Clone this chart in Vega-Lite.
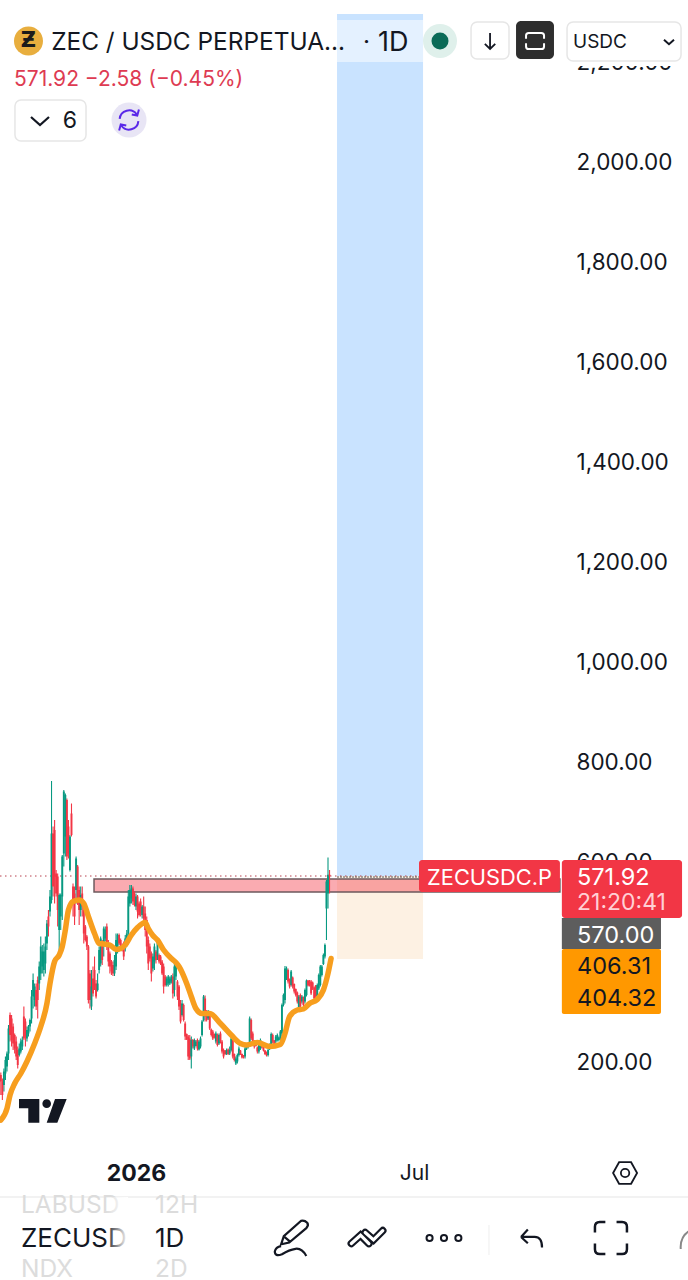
{"$schema":"https://vega.github.io/schema/vega-lite/v6.json","width":688,"height":1280,"padding":0,"autosize":{"type":"none"},"background":"#ffffff","config":{"view":{"stroke":null},"font":"Inter","axis":{"labelFont":"Inter"}},
"encoding":{"x":{"field":"date","type":"temporal","title":null,"scale":{"type":"utc","domain":[{"year":2025,"month":10,"date":4,"hours":11,"utc":true},{"year":2026,"month":12,"date":26,"hours":9,"utc":true}],"nice":false},"axis":{"orient":"bottom","offset":-107,"values":[{"year":2026,"month":1,"date":1,"utc":true},{"year":2026,"month":7,"date":1,"utc":true}],"labelExpr":"utcmonth(datum.value)==0?'2026':'Jul'","labelFontWeight":{"condition":{"test":"utcmonth(datum.value)==0","value":"bold"},"value":"normal"},"labelFontSize":{"condition":{"test":"utcmonth(datum.value)==0","value":23},"value":21},"labelColor":"#131722","labelBaseline":"middle","labelPadding":0,"labelOverlap":false,"labelBound":false,"labelFlush":false,"domain":false,"ticks":false,"grid":false,"title":null}},
"y":{"field":"price","type":"quantitative","title":null,"scale":{"domain":[-236,2324],"nice":false,"zero":false},"axis":{"orient":"right","offset":-112,"values":[200,600,800,1000,1200,1400,1600,1800,2000,2200],"format":",.2f","labelFontSize":22.5,"labelColor":"#131722","labelPadding":0,"labelAlign":"left","labelOverlap":false,"labelBound":false,"domain":false,"ticks":false,"grid":false,"title":null}}},
"layer":[
{"data":{"values":[{"date":"2026-05-11T21:00:00Z","date2":"2026-07-06T21:00:00Z","price":572,"price2":2296}],"format":{"parse":{"date":"date","date2":"date"}}},"mark":{"type":"rect","color":"#C9E3FF"},"encoding":{"x2":{"field":"date2"},"y2":{"field":"price2"}}},
{"data":{"values":[{"date":"2026-05-11T21:00:00Z","date2":"2026-07-06T21:00:00Z","price":2284,"price2":2200}],"format":{"parse":{"date":"date","date2":"date"}}},"mark":{"type":"rect","color":"#ffffff","opacity":0.5},"encoding":{"x2":{"field":"date2"},"y2":{"field":"price2"}}},
{"data":{"values":[{"date":"2026-05-11T21:00:00Z","date2":"2026-07-06T21:00:00Z","price":406,"price2":572}],"format":{"parse":{"date":"date","date2":"date"}}},"mark":{"type":"rect","color":"#FDF1E3"},"encoding":{"x2":{"field":"date2"},"y2":{"field":"price2"}}},
{"data":{"values":[{"date":"2025-12-04T16:00:00Z","date2":"2026-10-04T00:00:00Z","price":540,"price2":566}],"format":{"parse":{"date":"date","date2":"date"}}},"mark":{"type":"rect","fill":"#F23645","fillOpacity":0.42,"stroke":"#6E5A5E","strokeWidth":1.5},"encoding":{"x2":{"field":"date2"},"y2":{"field":"price2"}}},
{"data":{"values":[{"date":"2025-10-04T11:00:00Z","date2":"2026-07-04T06:00:00Z","price":572}],"format":{"parse":{"date":"date","date2":"date"}}},"mark":{"type":"rule","color":"#B8404F","strokeWidth":1,"strokeDash":[1.5,3.5]},"encoding":{"x2":{"field":"date2"}}},
{"data":{"values":[{"date":"2026-05-11T21:00:00Z","date2":"2026-07-04T06:00:00Z","price":570}],"format":{"parse":{"date":"date","date2":"date"}}},"mark":{"type":"rule","color":"#555555","strokeWidth":1,"strokeDash":[2,1]},"encoding":{"x2":{"field":"date2"}}},
{"data":{"name":"candles","values":[
{"date":"2025-10-05","open":174,"high":179,"low":134,"close":161},
{"date":"2025-10-06","open":161,"high":167,"low":124,"close":134},
{"date":"2025-10-07","open":154,"high":187,"low":141,"close":181},
{"date":"2025-10-08","open":177,"high":211,"low":164,"close":204},
{"date":"2025-10-09","open":191,"high":221,"low":181,"close":217},
{"date":"2025-10-10","open":217,"high":274,"low":204,"close":267},
{"date":"2025-10-11","open":294,"high":299,"low":241,"close":254},
{"date":"2025-10-12","open":287,"high":294,"low":231,"close":244},
{"date":"2025-10-13","open":271,"high":277,"low":224,"close":237},
{"date":"2025-10-14","open":254,"high":257,"low":217,"close":227},
{"date":"2025-10-15","open":241,"high":251,"low":204,"close":211},
{"date":"2025-10-16","open":224,"high":231,"low":187,"close":194},
{"date":"2025-10-17","open":214,"high":237,"low":211,"close":227},
{"date":"2025-10-18","open":221,"high":247,"low":217,"close":241},
{"date":"2025-10-19","open":231,"high":251,"low":224,"close":244},
{"date":"2025-10-20","open":291,"high":311,"low":244,"close":247},
{"date":"2025-10-21","open":281,"high":287,"low":231,"close":251},
{"date":"2025-10-22","open":247,"high":271,"low":241,"close":264},
{"date":"2025-10-23","open":257,"high":274,"low":251,"close":271},
{"date":"2025-10-24","open":271,"high":287,"low":261,"close":284},
{"date":"2025-10-25","open":287,"high":344,"low":277,"close":331},
{"date":"2025-10-26","open":331,"high":377,"low":307,"close":364},
{"date":"2025-10-27","open":324,"high":357,"low":311,"close":351},
{"date":"2025-10-28","open":344,"high":357,"low":304,"close":311},
{"date":"2025-10-29","open":364,"high":371,"low":287,"close":324},
{"date":"2025-10-30","open":357,"high":401,"low":344,"close":391},
{"date":"2025-10-31","open":377,"high":451,"low":364,"close":431},
{"date":"2025-11-01","open":391,"high":434,"low":377,"close":421},
{"date":"2025-11-02","open":384,"high":437,"low":371,"close":421},
{"date":"2025-11-03","open":397,"high":451,"low":377,"close":431},
{"date":"2025-11-04","open":437,"high":484,"low":424,"close":477},
{"date":"2025-11-05","open":491,"high":504,"low":451,"close":471},
{"date":"2025-11-06","open":501,"high":544,"low":491,"close":531},
{"date":"2025-11-07","open":524,"high":762,"low":517,"close":657},
{"date":"2025-11-08","open":657,"high":671,"low":531,"close":551},
{"date":"2025-11-09","open":664,"high":684,"low":517,"close":571},
{"date":"2025-11-10","open":577,"high":584,"low":531,"close":537},
{"date":"2025-11-11","open":571,"high":577,"low":471,"close":504},
{"date":"2025-11-12","open":464,"high":537,"low":424,"close":534},
{"date":"2025-11-13","open":491,"high":537,"low":464,"close":534},
{"date":"2025-11-14","open":531,"high":614,"low":484,"close":611},
{"date":"2025-11-15","open":617,"high":744,"low":591,"close":741},
{"date":"2025-11-16","open":651,"high":737,"low":611,"close":734},
{"date":"2025-11-17","open":724,"high":727,"low":604,"close":611},
{"date":"2025-11-18","open":671,"high":684,"low":607,"close":617},
{"date":"2025-11-19","open":584,"high":654,"low":581,"close":651},
{"date":"2025-11-20","open":697,"high":717,"low":651,"close":654},
{"date":"2025-11-21","open":551,"high":557,"low":491,"close":517},
{"date":"2025-11-22","open":537,"high":551,"low":474,"close":491},
{"date":"2025-11-23","open":544,"high":611,"low":517,"close":607},
{"date":"2025-11-24","open":591,"high":594,"low":514,"close":517},
{"date":"2025-11-25","open":544,"high":551,"low":474,"close":504},
{"date":"2025-11-26","open":504,"high":551,"low":491,"close":534},
{"date":"2025-11-27","open":537,"high":551,"low":491,"close":511},
{"date":"2025-11-28","open":504,"high":511,"low":437,"close":457},
{"date":"2025-11-29","open":471,"high":474,"low":441,"close":444},
{"date":"2025-11-30","open":451,"high":454,"low":424,"close":431},
{"date":"2025-12-01","open":431,"high":434,"low":317,"close":324},
{"date":"2025-12-02","open":377,"high":384,"low":307,"close":324},
{"date":"2025-12-03","open":311,"high":384,"low":304,"close":351},
{"date":"2025-12-04","open":367,"high":391,"low":331,"close":337},
{"date":"2025-12-05","open":384,"high":411,"low":344,"close":351},
{"date":"2025-12-06","open":357,"high":364,"low":327,"close":331},
{"date":"2025-12-07","open":344,"high":377,"low":341,"close":357},
{"date":"2025-12-08","open":384,"high":431,"low":377,"close":424},
{"date":"2025-12-09","open":397,"high":451,"low":391,"close":447},
{"date":"2025-12-10","open":441,"high":444,"low":394,"close":404},
{"date":"2025-12-11","open":437,"high":471,"low":411,"close":467},
{"date":"2025-12-12","open":447,"high":471,"low":441,"close":465},
{"date":"2025-12-13","open":471,"high":477,"low":424,"close":431},
{"date":"2025-12-14","open":437,"high":444,"low":391,"close":401},
{"date":"2025-12-15","open":417,"high":421,"low":377,"close":391},
{"date":"2025-12-16","open":401,"high":404,"low":374,"close":381},
{"date":"2025-12-17","open":394,"high":401,"low":372,"close":377},
{"date":"2025-12-18","open":377,"high":414,"low":372,"close":404},
{"date":"2025-12-19","open":391,"high":457,"low":384,"close":444},
{"date":"2025-12-20","open":424,"high":457,"low":417,"close":454},
{"date":"2025-12-21","open":454,"high":457,"low":434,"close":437},
{"date":"2025-12-22","open":444,"high":447,"low":424,"close":427},
{"date":"2025-12-23","open":434,"high":437,"low":421,"close":424},
{"date":"2025-12-24","open":437,"high":441,"low":404,"close":411},
{"date":"2025-12-25","open":427,"high":454,"low":421,"close":447},
{"date":"2025-12-26","open":437,"high":464,"low":431,"close":457},
{"date":"2025-12-27","open":457,"high":544,"low":451,"close":531},
{"date":"2025-12-28","open":517,"high":554,"low":511,"close":544},
{"date":"2025-12-29","open":527,"high":554,"low":517,"close":547},
{"date":"2025-12-30","open":547,"high":551,"low":514,"close":521},
{"date":"2025-12-31","open":537,"high":541,"low":511,"close":514},
{"date":"2026-01-01","open":511,"high":537,"low":504,"close":531},
{"date":"2026-01-02","open":531,"high":534,"low":487,"close":501},
{"date":"2026-01-03","open":517,"high":521,"low":491,"close":494},
{"date":"2026-01-04","open":521,"high":527,"low":491,"close":497},
{"date":"2026-01-05","open":494,"high":514,"low":487,"close":511},
{"date":"2026-01-06","open":511,"high":531,"low":481,"close":487},
{"date":"2026-01-07","open":497,"high":511,"low":451,"close":464},
{"date":"2026-01-08","open":484,"high":491,"low":417,"close":431},
{"date":"2026-01-09","open":444,"high":451,"low":384,"close":397},
{"date":"2026-01-10","open":431,"high":437,"low":401,"close":407},
{"date":"2026-01-11","open":417,"high":421,"low":361,"close":377},
{"date":"2026-01-12","open":387,"high":417,"low":381,"close":411},
{"date":"2026-01-13","open":401,"high":437,"low":384,"close":431},
{"date":"2026-01-14","open":421,"high":424,"low":397,"close":404},
{"date":"2026-01-15","open":411,"high":449,"low":404,"close":444},
{"date":"2026-01-16","open":414,"high":417,"low":397,"close":401},
{"date":"2026-01-17","open":411,"high":414,"low":394,"close":397},
{"date":"2026-01-18","open":401,"high":404,"low":374,"close":377},
{"date":"2026-01-19","open":391,"high":397,"low":337,"close":351},
{"date":"2026-01-20","open":371,"high":374,"low":351,"close":354},
{"date":"2026-01-21","open":354,"high":371,"low":351,"close":367},
{"date":"2026-01-22","open":357,"high":374,"low":351,"close":371},
{"date":"2026-01-23","open":357,"high":371,"low":354,"close":367},
{"date":"2026-01-24","open":361,"high":374,"low":357,"close":371},
{"date":"2026-01-25","open":371,"high":377,"low":327,"close":337},
{"date":"2026-01-26","open":344,"high":401,"low":331,"close":391},
{"date":"2026-01-27","open":371,"high":403,"low":364,"close":397},
{"date":"2026-01-28","open":361,"high":364,"low":324,"close":331},
{"date":"2026-01-29","open":351,"high":354,"low":304,"close":311},
{"date":"2026-01-30","open":317,"high":324,"low":277,"close":281},
{"date":"2026-01-31","open":294,"high":324,"low":291,"close":317},
{"date":"2026-02-01","open":314,"high":317,"low":281,"close":284},
{"date":"2026-02-02","open":277,"high":281,"low":244,"close":251},
{"date":"2026-02-03","open":256,"high":257,"low":244,"close":245},
{"date":"2026-02-04","open":251,"high":254,"low":204,"close":211},
{"date":"2026-02-05","open":247,"high":254,"low":204,"close":207},
{"date":"2026-02-06","open":211,"high":251,"low":187,"close":244},
{"date":"2026-02-07","open":244,"high":246,"low":227,"close":231},
{"date":"2026-02-08","open":227,"high":247,"low":224,"close":244},
{"date":"2026-02-09","open":232,"high":244,"low":231,"close":241},
{"date":"2026-02-10","open":244,"high":247,"low":223,"close":227},
{"date":"2026-02-11","open":225,"high":244,"low":223,"close":241},
{"date":"2026-02-12","open":231,"high":251,"low":227,"close":247},
{"date":"2026-02-13","open":254,"high":284,"low":251,"close":281},
{"date":"2026-02-14","open":284,"high":334,"low":281,"close":331},
{"date":"2026-02-15","open":327,"high":333,"low":281,"close":291},
{"date":"2026-02-16","open":301,"high":304,"low":281,"close":284},
{"date":"2026-02-17","open":287,"high":304,"low":284,"close":301},
{"date":"2026-02-18","open":297,"high":301,"low":264,"close":267},
{"date":"2026-02-19","open":265,"high":267,"low":251,"close":254},
{"date":"2026-02-20","open":261,"high":264,"low":244,"close":247},
{"date":"2026-02-21","open":256,"high":257,"low":247,"close":249},
{"date":"2026-02-22","open":241,"high":261,"low":237,"close":257},
{"date":"2026-02-23","open":254,"high":257,"low":231,"close":234},
{"date":"2026-02-24","open":237,"high":257,"low":234,"close":254},
{"date":"2026-02-25","open":257,"high":261,"low":237,"close":241},
{"date":"2026-02-26","open":241,"high":244,"low":217,"close":221},
{"date":"2026-02-27","open":224,"high":227,"low":207,"close":211},
{"date":"2026-02-28","open":223,"high":224,"low":214,"close":216},
{"date":"2026-03-01","open":216,"high":227,"low":214,"close":224},
{"date":"2026-03-02","open":225,"high":227,"low":214,"close":216},
{"date":"2026-03-03","open":217,"high":231,"low":214,"close":224},
{"date":"2026-03-04","open":224,"high":251,"low":221,"close":247},
{"date":"2026-03-05","open":244,"high":247,"low":207,"close":211},
{"date":"2026-03-06","open":216,"high":217,"low":201,"close":204},
{"date":"2026-03-07","open":197,"high":211,"low":194,"close":207},
{"date":"2026-03-08","open":201,"high":217,"low":197,"close":214},
{"date":"2026-03-09","open":214,"high":231,"low":211,"close":227},
{"date":"2026-03-10","open":223,"high":224,"low":214,"close":216},
{"date":"2026-03-11","open":216,"high":217,"low":207,"close":209},
{"date":"2026-03-12","open":213,"high":214,"low":207,"close":209},
{"date":"2026-03-13","open":211,"high":231,"low":207,"close":227},
{"date":"2026-03-14","open":227,"high":237,"low":224,"close":234},
{"date":"2026-03-15","open":231,"high":237,"low":227,"close":236},
{"date":"2026-03-16","open":237,"high":291,"low":231,"close":287},
{"date":"2026-03-17","open":284,"high":287,"low":244,"close":247},
{"date":"2026-03-18","open":257,"high":261,"low":237,"close":241},
{"date":"2026-03-19","open":242,"high":244,"low":227,"close":231},
{"date":"2026-03-20","open":239,"high":241,"low":231,"close":232},
{"date":"2026-03-21","open":229,"high":231,"low":217,"close":221},
{"date":"2026-03-22","open":221,"high":237,"low":217,"close":234},
{"date":"2026-03-23","open":227,"high":247,"low":224,"close":244},
{"date":"2026-03-24","open":236,"high":237,"low":227,"close":229},
{"date":"2026-03-25","open":229,"high":231,"low":221,"close":223},
{"date":"2026-03-26","open":223,"high":224,"low":214,"close":216},
{"date":"2026-03-27","open":219,"high":221,"low":211,"close":213},
{"date":"2026-03-28","open":214,"high":227,"low":211,"close":224},
{"date":"2026-03-29","open":227,"high":237,"low":224,"close":234},
{"date":"2026-03-30","open":234,"high":259,"low":231,"close":256},
{"date":"2026-03-31","open":254,"high":257,"low":237,"close":241},
{"date":"2026-04-01","open":243,"high":244,"low":234,"close":236},
{"date":"2026-04-02","open":241,"high":254,"low":237,"close":251},
{"date":"2026-04-03","open":244,"high":257,"low":241,"close":254},
{"date":"2026-04-04","open":244,"high":251,"low":241,"close":249},
{"date":"2026-04-05","open":247,"high":264,"low":244,"close":261},
{"date":"2026-04-06","open":257,"high":317,"low":251,"close":314},
{"date":"2026-04-07","open":314,"high":337,"low":311,"close":334},
{"date":"2026-04-08","open":324,"high":392,"low":317,"close":387},
{"date":"2026-04-09","open":367,"high":391,"low":364,"close":387},
{"date":"2026-04-10","open":384,"high":387,"low":357,"close":361},
{"date":"2026-04-11","open":365,"high":367,"low":347,"close":351},
{"date":"2026-04-12","open":354,"high":384,"low":351,"close":381},
{"date":"2026-04-13","open":369,"high":371,"low":347,"close":351},
{"date":"2026-04-14","open":356,"high":357,"low":337,"close":341},
{"date":"2026-04-15","open":346,"high":347,"low":331,"close":334},
{"date":"2026-04-16","open":339,"high":341,"low":317,"close":321},
{"date":"2026-04-17","open":307,"high":334,"low":304,"close":331},
{"date":"2026-04-18","open":334,"high":337,"low":304,"close":311},
{"date":"2026-04-19","open":321,"high":334,"low":317,"close":331},
{"date":"2026-04-20","open":329,"high":331,"low":311,"close":314},
{"date":"2026-04-21","open":321,"high":347,"low":317,"close":344},
{"date":"2026-04-22","open":334,"high":365,"low":331,"close":363},
{"date":"2026-04-23","open":363,"high":364,"low":351,"close":353},
{"date":"2026-04-24","open":361,"high":364,"low":351,"close":353},
{"date":"2026-04-25","open":361,"high":364,"low":334,"close":337},
{"date":"2026-04-26","open":359,"high":361,"low":344,"close":347},
{"date":"2026-04-27","open":349,"high":351,"low":324,"close":327},
{"date":"2026-04-28","open":353,"high":354,"low":327,"close":331},
{"date":"2026-04-29","open":331,"high":357,"low":327,"close":354},
{"date":"2026-04-30","open":347,"high":377,"low":344,"close":374},
{"date":"2026-05-01","open":354,"high":394,"low":351,"close":391},
{"date":"2026-05-02","open":374,"high":394,"low":371,"close":391},
{"date":"2026-05-03","open":396,"high":417,"low":394,"close":414},
{"date":"2026-05-04","open":411,"high":437,"low":407,"close":434},
{"date":"2026-05-05","open":507,"high":564,"low":444,"close":561},
{"date":"2026-05-06","open":537,"high":609,"low":507,"close":574.5},
{"date":"2026-05-07","open":574.5,"high":584,"low":537,"close":571.92}
]},"layer":[
{"mark":{"type":"rule","strokeWidth":1.1},"encoding":{"y":{"field":"low","type":"quantitative","title":null,"scale":{"domain":[-236,2324],"nice":false,"zero":false}},"y2":{"field":"high"},"color":{"condition":{"test":"datum.close>=datum.open","value":"#089981"},"value":"#F23645"}}},
{"mark":{"type":"rule","strokeWidth":1.9},"encoding":{"y":{"field":"open","type":"quantitative","title":null,"scale":{"domain":[-236,2324],"nice":false,"zero":false}},"y2":{"field":"close"},"color":{"condition":{"test":"datum.close>=datum.open","value":"#089981"},"value":"#F23645"}}}
]},
{"data":{"values":[
{"date":"2025-10-05","price":84},{"date":"2025-10-09","price":107},{"date":"2025-10-11","price":134},{"date":"2025-10-14","price":157},{"date":"2025-10-18","price":177},{"date":"2025-10-22","price":201},{"date":"2025-10-27","price":237},{"date":"2025-10-31","price":271},{"date":"2025-11-04","price":317},{"date":"2025-11-06","price":357},{"date":"2025-11-09","price":401},{"date":"2025-11-12","price":414},{"date":"2025-11-14","price":431},{"date":"2025-11-16","price":464},{"date":"2025-11-18","price":504},{"date":"2025-11-21","price":521},{"date":"2025-11-25","price":524},{"date":"2025-11-28","price":517},{"date":"2025-12-01","price":491},{"date":"2025-12-05","price":457},{"date":"2025-12-08","price":437},{"date":"2025-12-11","price":436},{"date":"2025-12-15","price":434},{"date":"2025-12-19","price":425},{"date":"2025-12-22","price":427},{"date":"2025-12-25","price":434},{"date":"2025-12-29","price":454},{"date":"2026-01-02","price":469},{"date":"2026-01-07","price":479},{"date":"2026-01-09","price":467},{"date":"2026-01-12","price":453},{"date":"2026-01-15","price":444},{"date":"2026-01-19","price":424},{"date":"2026-01-24","price":407},{"date":"2026-01-27","price":399},{"date":"2026-01-29","price":391},{"date":"2026-02-03","price":357},{"date":"2026-02-06","price":331},{"date":"2026-02-09","price":307},{"date":"2026-02-13","price":297},{"date":"2026-02-18","price":297},{"date":"2026-02-25","price":277},{"date":"2026-03-04","price":254},{"date":"2026-03-10","price":237},{"date":"2026-03-14","price":234},{"date":"2026-03-21","price":239},{"date":"2026-03-29","price":231},{"date":"2026-04-05","price":235},{"date":"2026-04-08","price":257},{"date":"2026-04-11","price":291},{"date":"2026-04-16","price":304},{"date":"2026-04-20","price":306},{"date":"2026-04-24","price":317},{"date":"2026-04-29","price":325},{"date":"2026-05-03","price":344},{"date":"2026-05-06","price":377},{"date":"2026-05-08","price":407}
]},"mark":{"type":"line","color":"#F79E1E","strokeWidth":5.5,"interpolate":"monotone","strokeCap":"round"}},
{"data":{"values":[{"date":"2026-07-04T06:00:00Z","date2":"2026-10-04T00:00:00Z","price":540,"price2":604}],"format":{"parse":{"date":"date","date2":"date"}}},"mark":{"type":"rect","color":"#F23645","cornerRadius":3},"encoding":{"x2":{"field":"date2"},"y2":{"field":"price2"}}},
{"data":{"values":[{"date":"2026-10-05T06:00:00Z","date2":"2026-12-22T12:00:00Z","price":488,"price2":604}],"format":{"parse":{"date":"date","date2":"date"}}},"mark":{"type":"rect","color":"#F23645","cornerRadius":3},"encoding":{"x2":{"field":"date2"},"y2":{"field":"price2"}}},
{"data":{"values":[{"date":"2026-10-05T06:00:00Z","date2":"2026-12-08T19:00:00Z","price":426,"price2":488}],"format":{"parse":{"date":"date","date2":"date"}}},"mark":{"type":"rect","color":"#5D5D5D"},"encoding":{"x2":{"field":"date2"},"y2":{"field":"price2"}}},
{"data":{"values":[{"date":"2026-10-05T06:00:00Z","date2":"2026-12-08T19:00:00Z","price":296,"price2":426}],"format":{"parse":{"date":"date","date2":"date"}}},"mark":{"type":"rect","color":"#FF9800","cornerRadius":2},"encoding":{"x2":{"field":"date2"},"y2":{"field":"price2"}}},
{"data":{"values":[{"date":"2026-10-08T15:00:00Z","date2":"2026-12-21T20:00:00Z","price":2192,"price2":2220}],"format":{"parse":{"date":"date","date2":"date"}}},"mark":{"type":"rect","color":"#ffffff"},"encoding":{"x2":{"field":"date2"},"y2":{"field":"price2"}}},
{"data":{"values":[{"date":"2026-08-07T03:00:00Z","date2":"2026-08-31T20:00:00Z","price":2206,"price2":2280},{"date":"2026-10-08T15:00:00Z","date2":"2026-12-21T20:00:00Z","price":2202,"price2":2280},{"date":"2025-10-14T05:00:00Z","date2":"2025-11-29T11:00:00Z","price":2042,"price2":2124}],"format":{"parse":{"date":"date","date2":"date"}}},"mark":{"type":"rect","fill":"#ffffff","stroke":"#E6E6E6","strokeWidth":1.5,"cornerRadius":6},"encoding":{"x2":{"field":"date2"},"y2":{"field":"price2"}}},
{"data":{"values":[{"date":"2026-09-05T10:00:00Z","date2":"2026-09-30T03:00:00Z","price":2206,"price2":2282}],"format":{"parse":{"date":"date","date2":"date"}}},"mark":{"type":"rect","color":"#2E2E2E","cornerRadius":5},"encoding":{"x2":{"field":"date2"},"y2":{"field":"price2"}}},
{"data":{"values":[{"date":"2025-10-23","price":2242}]},"mark":{"type":"point","shape":"circle","filled":true,"opacity":1,"size":841,"color":"#E8AE3E"}},
{"data":{"values":[{"date":"2025-10-23","price":2242,"label":"Ƶ"}]},"mark":{"type":"text","font":"DejaVu Sans","fontWeight":"bold","fontSize":21,"color":"#1B1B1B","align":"center","baseline":"middle"},"encoding":{"text":{"field":"label"}}},
{"data":{"values":[{"date":"2026-07-17T22:00:00Z","price":2242}]},"mark":{"type":"point","shape":"circle","filled":true,"opacity":1,"size":1156,"color":"#DFF0EB"}},
{"data":{"values":[{"date":"2026-07-17T22:00:00Z","price":2242}]},"mark":{"type":"point","shape":"circle","filled":true,"opacity":1,"size":289,"color":"#0B6B57"}},
{"data":{"values":[{"date":"2025-12-27T11:00:00Z","price":2084}]},"mark":{"type":"point","shape":"circle","filled":true,"opacity":1,"size":1225,"color":"#E8E5F5"}},
{"data":{"values":[{"date":"2025-12-27T11:00:00Z","price":2084}]},"mark":{"type":"point","shape":"M-0.85 -0.1 A0.85 0.85 0 0 1 0.7 -0.5 M0.9 -0.95 L0.75 -0.4 L0.25 -0.5 M0.85 0.1 A0.85 0.85 0 0 1 -0.7 0.5 M-0.9 0.95 L-0.75 0.4 L-0.25 0.5","filled":false,"opacity":1,"size":484,"stroke":"#5A28E8","strokeWidth":2}},
{"data":{"values":[{"date":"2025-11-01T06:00:00Z","price":102.7}]},"mark":{"type":"point","shape":"M-0.986 -0.486 H-0.14 V0.5 H-0.6 V-0.1 H-0.986 Z M0.514 -0.486 H1 L0.61 0.5 H0.167 Z M-0.013 -0.29 a0.18 0.18 0 1 0 0.36 0 a0.18 0.18 0 1 0 -0.36 0 Z","filled":true,"opacity":1,"size":2304,"color":"#131722"}},
{"data":{"values":[{"date":"2025-10-30T12:00:00Z","price":2082}]},"mark":{"type":"point","shape":"M-1 -0.45 L0 0.45 L1 -0.45","filled":false,"opacity":1,"size":324,"stroke":"#131722","strokeWidth":2.2}},
{"data":{"values":[{"date":"2026-12-14T00:00:00Z","price":2240}]},"mark":{"type":"point","shape":"M-1 -0.45 L0 0.45 L1 -0.45","filled":false,"opacity":1,"size":100,"stroke":"#131722","strokeWidth":2}},
{"data":{"values":[{"date":"2026-08-19T12:00:00Z","price":2242}]},"mark":{"type":"point","shape":"M0 -1 V1 M-0.65 0.35 L0 1 L0.65 0.35","filled":false,"opacity":1,"size":256,"stroke":"#131722","strokeWidth":1.8}},
{"data":{"values":[{"date":"2026-09-17T19:00:00Z","price":2242}]},"mark":{"type":"point","shape":"M-1 -0.25 V-0.6 Q-1 -0.9 -0.7 -0.9 H0.7 Q1 -0.9 1 -0.6 V-0.25 M1 0.25 V0.6 Q1 0.9 0.7 0.9 H-0.7 Q-1 0.9 -1 0.6 V0.25","filled":false,"opacity":1,"size":324,"stroke":"#ffffff","strokeWidth":2}},
{"data":{"values":[{"date":"2026-11-15T10:00:00Z","price":-22}]},"mark":{"type":"point","shape":"M-1 0 L-0.5 -0.9 L0.5 -0.9 L1 0 L0.5 0.9 L-0.5 0.9 Z M-0.35 0 a0.35 0.35 0 1 0 0.7 0 a0.35 0.35 0 1 0 -0.7 0 Z","filled":false,"opacity":1,"size":576,"stroke":"#131722","strokeWidth":1.8}},
{"data":{"values":[{"date":"2025-10-04T11:00:00Z","date2":"2026-12-26T09:00:00Z","price":-70}],"format":{"parse":{"date":"date","date2":"date"}}},"mark":{"type":"rule","color":"#EEEEEE","strokeWidth":1.5},"encoding":{"x2":{"field":"date2"}}},
{"data":{"values":[{"date":"2026-08-18T19:00:00Z","price":-126,"price2":-186}]},"mark":{"type":"rule","color":"#EEEEEE","strokeWidth":1},"encoding":{"y2":{"field":"price2"}}},
{"data":{"values":[{"date":"2026-04-11T22:00:00Z","price":-152}]},"mark":{"type":"point","shape":"M-0.55 0.35 L-0.4 -0.1 L0.55 -0.95 Q0.75 -1 0.9 -0.85 Q1 -0.7 0.85 -0.55 L-0.1 0.25 Z M-0.35 -0.05 L-0.05 0.2 M0.85 1 Q0.6 0.55 0.25 0.6 Q-0.1 0.65 -0.5 0.9 Q-0.9 1.05 -0.9 0.75 Q-0.85 0.5 -0.55 0.45","filled":false,"opacity":1,"size":1296,"stroke":"#131722","strokeWidth":2.2}},
{"data":{"values":[{"date":"2026-05-31T10:00:00Z","price":-152}]},"mark":{"type":"point","shape":"M-0.85 0.3 L-0.35 -0.15 L0.1 0.3 M-0.1 -0.3 L0.35 0.1 L0.85 -0.4","filled":false,"opacity":1,"size":1369,"stroke":"#131722","strokeWidth":7.5,"strokeCap":"round"}},
{"data":{"values":[{"date":"2026-05-31T10:00:00Z","price":-152}]},"mark":{"type":"point","shape":"M-0.85 0.3 L-0.35 -0.15 L0.1 0.3 M-0.1 -0.3 L0.35 0.1 L0.85 -0.4","filled":false,"opacity":1,"size":1369,"stroke":"#ffffff","strokeWidth":3.2,"strokeCap":"round"}},
{"data":{"values":[{"date":"2026-07-20T12:00:00Z","price":-152}]},"mark":{"type":"point","shape":"M-0.97 0 a0.17 0.17 0 1 0 0.34 0 a0.17 0.17 0 1 0 -0.34 0 Z M-0.17 0 a0.17 0.17 0 1 0 0.34 0 a0.17 0.17 0 1 0 -0.34 0 Z M0.63 0 a0.17 0.17 0 1 0 0.34 0 a0.17 0.17 0 1 0 -0.34 0 Z","filled":false,"opacity":1,"size":1296,"stroke":"#131722","strokeWidth":2}},
{"data":{"values":[{"date":"2026-09-15T12:00:00Z","price":-152}]},"mark":{"type":"point","shape":"M-1 -0.1 L-0.35 -0.8 M-1 -0.1 L-0.35 0.5 M-1 -0.1 L0.3 -0.1 Q1 -0.1 1 0.9","filled":false,"opacity":1,"size":441,"stroke":"#131722","strokeWidth":2.2}},
{"data":{"values":[{"date":"2026-11-06T05:00:00Z","price":-152}]},"mark":{"type":"point","shape":"M-1 -0.35 V-0.7 Q-1 -1 -0.7 -1 H-0.35 M0.35 -1 H0.7 Q1 -1 1 -0.7 V-0.35 M1 0.35 V0.7 Q1 1 0.7 1 H0.35 M-0.35 1 H-0.7 Q-1 1 -1 0.7 V0.35","filled":false,"opacity":1,"size":1024,"stroke":"#131722","strokeWidth":2.5}},
{"data":{"values":[{"date":"2026-12-23T19:00:00Z","price":-152}]},"mark":{"type":"point","shape":"M-0.3 1 Q-0.4 -0.4 1 -0.9","filled":false,"opacity":1,"size":484,"stroke":"#888888","strokeWidth":2}},
{"data":{"values":[{"date":"2025-11-06T18:00:00Z","price":2238,"label":"ZEC / USDC PERPETUA..."},{"date":"2026-05-28T18:00:00Z","price":2238,"label":"·"}]},"mark":{"type":"text","fontSize":24.4,"color":"#131722","align":"left","baseline":"middle"},"encoding":{"text":{"field":"label"}}},
{"data":{"values":[{"date":"2026-06-07T13:00:00Z","price":2238,"label":"1D"}]},"mark":{"type":"text","fontSize":27,"color":"#131722","align":"left","baseline":"middle"},"encoding":{"text":{"field":"label"}}},
{"data":{"values":[{"date":"2025-10-13T14:00:00Z","price":2164,"label":"571.92  −2.58 (−0.45%)"}]},"mark":{"type":"text","fontSize":21,"color":"#DE3B52","align":"left","baseline":"middle"},"encoding":{"text":{"field":"label"}}},
{"data":{"values":[{"date":"2025-11-19","price":2082,"label":"6"}]},"mark":{"type":"text","fontSize":23,"color":"#131722","align":"center","baseline":"middle"},"encoding":{"text":{"field":"label"}}},
{"data":{"values":[{"date":"2026-10-12T12:00:00Z","price":2240,"label":"USDC"}]},"mark":{"type":"text","fontSize":19,"color":"#131722","align":"left","baseline":"middle"},"encoding":{"text":{"field":"label"}}},
{"data":{"values":[{"date":"2026-07-09T12:00:00Z","price":568,"label":"ZECUSDC.P"}]},"mark":{"type":"text","fontSize":21.8,"color":"#ffffff","align":"left","baseline":"middle"},"encoding":{"text":{"field":"label"}}},
{"data":{"values":[{"date":"2026-10-15T03:00:00Z","price":568,"label":"571.92"},{"date":"2026-10-15T03:00:00Z","price":452,"label":"570.00"}]},"mark":{"type":"text","fontSize":23.5,"color":"#ffffff","align":"left","baseline":"middle"},"encoding":{"text":{"field":"label"}}},
{"data":{"values":[{"date":"2026-10-15T03:00:00Z","price":518,"label":"21:20:41"}]},"mark":{"type":"text","fontSize":23,"color":"#FFD0D5","align":"left","baseline":"middle"},"encoding":{"text":{"field":"label"}}},
{"data":{"values":[{"date":"2026-10-15T03:00:00Z","price":390,"label":"406.31"},{"date":"2026-10-15T03:00:00Z","price":326,"label":"404.32"}]},"mark":{"type":"text","fontSize":23.5,"color":"#131722","align":"left","baseline":"middle"},"encoding":{"text":{"field":"label"}}},
{"data":{"values":[{"date":"2025-10-18T03:00:00Z","price":-88,"label":"LABUSD"},{"date":"2026-01-13T09:00:00Z","price":-88,"label":"12H"},{"date":"2025-10-18T03:00:00Z","price":-216,"label":"NDX"},{"date":"2026-01-13T09:00:00Z","price":-216,"label":"2D"}]},"mark":{"type":"text","fontSize":24.5,"color":"#DCDCDC","align":"left","baseline":"middle"},"encoding":{"text":{"field":"label"}}},
{"data":{"values":[{"date":"2025-10-18T03:00:00Z","price":-154,"label":"ZECUSD"},{"date":"2026-01-13T09:00:00Z","price":-154,"label":"1D"}]},"mark":{"type":"text","fontSize":26,"color":"#131722","align":"left","baseline":"middle"},"encoding":{"text":{"field":"label"}}},
{"data":{"values":[{"date":"2025-12-11T20:00:00Z","date2":"2025-12-26T19:00:00Z","price":-70,"price2":-236}],"format":{"parse":{"date":"date","date2":"date"}}},"mark":{"type":"rect","color":{"gradient":"linear","x1":0,"x2":1,"y1":0,"y2":0,"stops":[{"offset":0,"color":"rgba(255,255,255,0)"},{"offset":1,"color":"#ffffff"}]}},"encoding":{"x2":{"field":"date2"},"y2":{"field":"price2"}}}
]}
